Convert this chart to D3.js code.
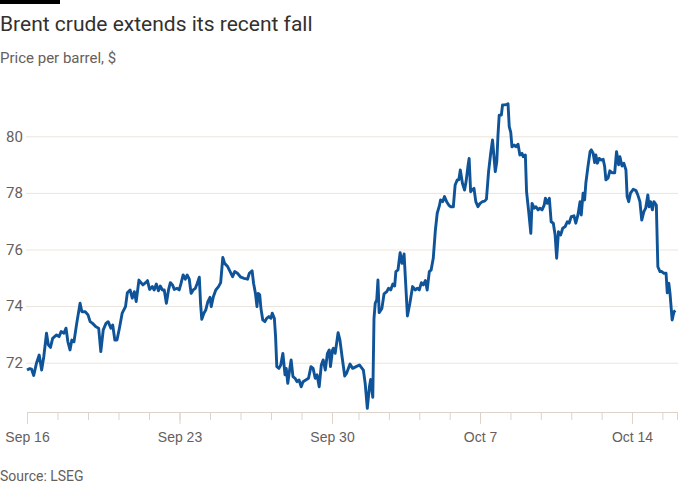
<!DOCTYPE html>
<html>
<head>
<meta charset="utf-8">
<script src="https://cdn.jsdelivr.net/npm/d3@7"></script>
<style>
  body { margin: 0; background: #fff; }
  svg { font-family: Roboto, "Noto Sans", sans-serif; }
  .grid line { stroke: #ece4dc; stroke-width: 1; }
  .grid .domain { display: none; }
  .axis .domain { stroke: #ddd3ca; }
  .axis line { stroke: #ddd3ca; }
  .lbl { fill: #66605c; font-size: 14px; }
</style>
</head>
<body>
<svg id="chart" width="700" height="500"></svg>
<script>
// trading days since Sep 16 (weekends removed), and Brent price
const tradingDay = [
  0.00,0.09,0.15,0.22,0.31,0.40,0.48,0.55,0.64,0.70,0.77,0.84,0.97,1.05,1.12,1.21,1.28,1.34,1.41,1.47,
  1.54,1.63,1.74,1.80,1.91,2.00,2.07,2.15,2.26,2.35,2.42,2.50,2.59,2.66,2.75,2.81,2.88,2.95,3.03,3.12,
  3.23,3.29,3.38,3.45,3.52,3.58,3.67,3.71,3.80,3.89,3.95,4.02,4.11,4.17,4.24,4.31,4.37,4.44,4.50,4.57,
  4.64,4.70,4.77,4.83,4.92,4.99,5.05,5.12,5.19,5.25,5.32,5.38,5.45,5.52,5.58,5.65,5.69,5.73,5.80,5.86,
  5.93,6.00,6.04,6.11,6.19,6.28,6.35,6.42,6.48,6.57,6.66,6.74,6.81,6.90,7.01,7.12,7.23,7.29,7.38,7.43,
  7.49,7.54,7.58,7.63,7.67,7.73,7.80,7.86,7.93,8.00,8.04,8.11,8.15,8.19,8.26,8.32,8.39,8.46,8.50,8.55,
  8.61,8.66,8.72,8.79,8.85,8.92,8.99,9.05,9.14,9.23,9.31,9.38,9.45,9.51,9.58,9.65,9.71,9.78,9.85,9.91,
  9.95,10.02,10.05,10.12,10.23,10.30,10.38,10.48,10.55,10.68,10.78,10.91,11.03,11.16,11.22,11.29,11.36,11.40,11.47,11.51,
  11.55,11.60,11.64,11.68,11.77,11.84,11.93,11.99,12.06,12.13,12.19,12.23,12.30,12.37,12.43,12.50,12.54,12.61,12.69,12.78,
  12.87,12.93,13.00,13.07,13.13,13.20,13.26,13.33,13.39,13.46,13.53,13.59,13.66,13.70,13.77,13.83,13.90,13.97,14.03,14.12,
  14.18,14.25,14.30,14.35,14.42,14.49,14.54,14.60,14.64,14.69,14.73,14.80,14.86,14.93,15.00,15.08,15.15,15.21,15.28,15.35,
  15.41,15.50,15.55,15.59,15.63,15.70,15.74,15.81,15.88,15.92,15.96,16.01,16.05,16.12,16.18,16.25,16.31,16.38,16.42,16.49,
  16.53,16.60,16.67,16.71,16.78,16.84,16.91,16.97,17.04,17.11,17.15,17.21,17.28,17.34,17.41,17.47,17.52,17.58,17.65,17.72,
  17.80,17.87,17.93,18.00,18.09,18.15,18.22,18.29,18.33,18.39,18.44,18.48,18.55,18.62,18.66,18.72,18.77,18.81,18.86,18.92,
  18.99,19.05,19.10,19.14,19.21,19.27,19.34,19.43,19.49,19.56,19.60,19.67,19.73,19.80,19.84,19.89,19.95,20.04,20.13,20.19,
  20.26,20.32,20.39,20.45,20.52,20.56,20.61,20.67,20.72,20.80,20.85,20.92,20.98,21.05,21.12,21.16,21.21,21.25,21.32,21.38,
  21.43
];
const brent = [
  71.74,71.79,71.77,71.55,71.98,72.27,71.74,72.21,73.04,72.63,72.54,72.86,72.98,72.92,73.10,73.04,73.22,72.74,72.45,72.80,
  72.74,73.39,74.10,73.80,73.80,73.69,73.45,73.39,73.27,73.22,72.39,73.16,73.39,73.45,73.22,73.33,72.80,72.80,73.22,73.75,
  73.98,74.47,74.57,74.28,74.51,74.16,74.92,74.86,74.75,74.83,74.90,74.59,74.69,74.57,74.78,74.54,74.71,74.57,74.57,74.10,
  74.57,74.83,74.75,74.59,74.63,74.57,74.80,75.10,74.95,75.10,74.95,74.45,74.57,74.63,74.80,75.02,74.10,73.53,73.75,73.86,
  74.16,74.31,73.98,74.33,74.57,74.69,74.83,75.72,75.51,75.41,75.22,75.04,75.22,75.16,75.02,74.98,74.95,75.16,75.25,74.80,
  74.45,73.98,74.45,74.40,73.92,73.51,73.45,73.57,73.63,73.57,73.75,73.57,72.92,71.86,71.80,71.92,72.33,71.57,71.80,71.27,
  71.74,72.10,71.51,71.45,71.33,71.39,71.15,71.33,71.39,71.45,71.86,71.80,71.45,71.57,71.15,71.92,72.10,71.74,72.33,72.45,
  71.86,72.45,72.51,72.33,73.06,72.80,72.21,71.53,71.63,71.95,71.80,71.86,71.92,71.74,71.27,70.39,71.15,71.41,70.78,73.57,
  74.10,74.22,74.92,73.77,73.92,74.43,74.51,74.63,74.57,74.78,74.71,75.22,75.28,75.89,75.51,75.84,75.04,73.65,74.10,74.69,
  74.57,74.63,74.57,74.83,74.75,74.90,74.57,75.22,75.28,75.69,76.69,77.28,77.54,77.75,77.69,77.87,77.69,77.57,77.51,77.51,
  78.28,78.46,78.46,78.81,78.34,78.10,78.40,78.93,79.22,78.04,78.10,78.16,77.69,77.51,77.63,77.69,77.71,77.78,78.75,79.40,
  79.87,78.75,79.10,80.05,80.75,80.75,81.11,81.11,81.13,81.15,80.34,80.14,79.63,79.69,79.63,79.72,79.34,79.40,79.28,79.34,
  78.04,77.34,76.57,77.63,77.46,77.51,77.40,77.46,77.40,77.57,77.81,77.63,77.81,76.98,76.93,76.51,75.69,76.63,76.51,76.75,
  76.81,76.98,76.93,77.16,77.19,76.93,77.22,77.69,77.22,77.99,77.75,78.34,78.93,79.46,79.52,79.40,79.07,79.34,79.05,79.22,
  79.16,79.19,78.93,78.46,78.52,78.78,78.71,78.71,79.46,78.99,79.28,78.95,79.05,78.81,77.87,77.69,77.99,78.13,78.08,77.93,
  77.69,77.04,77.34,77.46,77.93,77.51,77.69,77.40,77.69,77.57,75.39,75.22,75.22,75.16,75.16,74.47,74.81,74.45,73.51,73.80,
  73.84
];
const tickDays = [0, 5, 10, 15, 20];
const tickLabels = ["Sep 16", "Sep 23", "Sep 30", "Oct 7", "Oct 14"];
const yTicks = [72, 74, 76, 78, 80];
const lastDay = 21.48;

const svg = d3.select("#chart");
const data = tradingDay.map((d, i) => ({ day: d, price: brent[i] }));

// Oct 1 session is short, so that day gets a narrower slot
const x = d3.scaleLinear()
    .domain([0, 10, 11, lastDay])
    .range([27, 332, 358.5, 677]);
const y = d3.scaleLinear()
    .domain([72, 80])
    .range([362.7, 136.3]);
const axisY = 412;

// header
svg.append("rect").attr("x", 0).attr("y", 0).attr("width", 60).attr("height", 4).attr("fill", "#000");
svg.append("text").attr("x", 0).attr("y", 31)
    .attr("font-size", 21).attr("fill", "#33302e")
    .text("Brent crude extends its recent fall");
svg.append("text").attr("x", 0).attr("y", 63)
    .attr("font-size", 15).attr("fill", "#66605c")
    .text("Price per barrel, $");

// y grid
svg.append("g").attr("class", "grid")
    .attr("transform", `translate(${x(0) - 1},0)`)
    .call(d3.axisRight(y).tickValues(yTicks).tickSize(x(lastDay) - x(0) + 2).tickFormat(""));

svg.append("g").selectAll("text")
    .data(yTicks)
    .join("text")
    .attr("class", "lbl")
    .style("font-size", "15px")
    .attr("x", 6)
    .attr("y", d => y(d))
    .attr("dy", "0.35em")
    .text(d => d);

// x axis: a tick per trading day, longer ones for labelled dates
const minorDays = d3.range(0, 22).concat([lastDay]);
svg.append("g").attr("class", "axis")
    .attr("transform", `translate(0,${axisY})`)
    .call(d3.axisBottom(x).tickValues(minorDays).tickSize(8).tickFormat("").tickSizeOuter(0));

const major = svg.append("g").attr("class", "axis")
    .attr("transform", `translate(0,${axisY})`)
    .call(d3.axisBottom(x).tickValues(tickDays).tickSize(12).tickPadding(8)
        .tickFormat((d, i) => tickLabels[i]).tickSizeOuter(0));
major.select(".domain").remove();
major.selectAll("text").attr("class", "lbl").attr("font-family", null);

// price line
svg.append("path")
    .datum(data)
    .attr("fill", "none")
    .attr("stroke", "#0f5499")
    .attr("stroke-width", 2.9)
    .attr("stroke-linejoin", "round")
    .attr("d", d3.line().x(d => x(d.day)).y(d => y(d.price)));

svg.append("text").attr("x", 0).attr("y", 481)
    .attr("font-size", 14).attr("fill", "#66605c")
    .text("Source: LSEG");
</script>
</body>
</html>
